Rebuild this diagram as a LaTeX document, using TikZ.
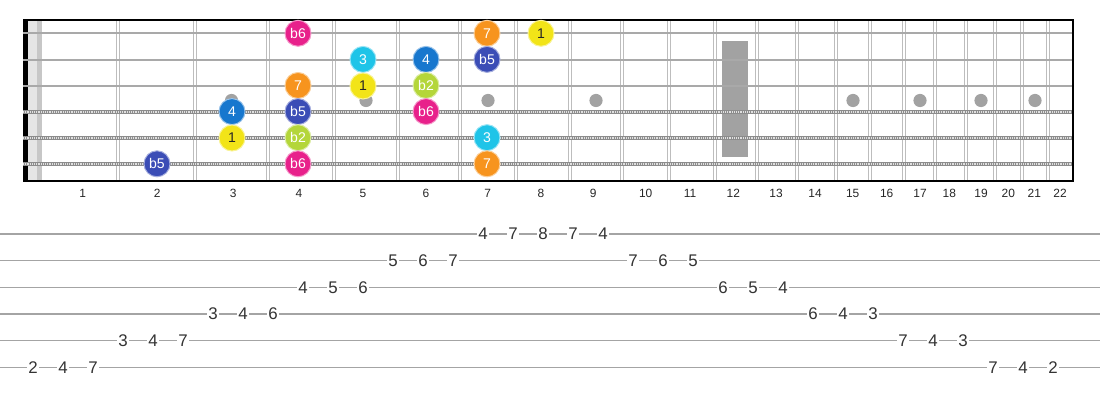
\documentclass[tikz,border=0pt]{standalone}
\usepackage{fontspec}
\setmainfont{Liberation Sans}
\definecolor{fretgrey}{HTML}{BDBDBD}
\definecolor{stringgrey}{HTML}{A9A9A9}
\definecolor{dotgrey}{HTML}{A2A2A2}
\definecolor{tabgrey}{HTML}{A4A4A4}
\definecolor{rootcol}{HTML}{F2E418}
\definecolor{flattwocol}{HTML}{B4D63A}
\definecolor{thirdcol}{HTML}{1FC4E8}
\definecolor{fourthcol}{HTML}{1777CE}
\definecolor{flatfivecol}{HTML}{3B4DB6}
\definecolor{flatsixcol}{HTML}{E8218B}
\definecolor{seventhcol}{HTML}{F7941E}
\tikzset{
  note/.style={circle, fill=#1, draw=white!55!#1, line width=0.7pt, minimum size=0.65cm,
    inner sep=0pt, font=\fontsize{10}{12}\selectfont, text=white},
  tabnum/.style={fill=white, inner sep=1.2pt, font=\fontsize{12}{14}\selectfont, text=black!80},
  fretnum/.style={font=\fontsize{8.5}{10}\selectfont, text=black!85},
  fretwire/.style={fretgrey, line width=0.9pt},
  tabline/.style={tabgrey, line width=1pt},
}
\begin{document}
\begin{tikzpicture}[x=0.025cm, y=-0.025cm]
\useasboundingbox (0,0) rectangle (1100,400);
% nut
\fill[black] (23,20) rectangle (28,181);
\fill[black!10] (28,20) rectangle (37,181);
\fill[black!22] (37,20) rectangle (42,181);
% fret wires
\foreach \w in {118,195,268,334,398,460,516,570,622,669,715,757,797,836,870,904,935,966,995,1022,1048}
  {\draw[fretwire] (\w-1.6,20) -- (\w-1.6,181);
   \draw[fretwire] (\w+1.6,20) -- (\w+1.6,181);}
% inlays
\fill[dotgrey] (722,41) rectangle (748,157);
\foreach \d in {231.5,366,488,596,853,920,981,1035}
  \fill[dotgrey] (\d,100.5) circle[radius=0.165cm];
% strings
\foreach \s in {33.3,60,86}
  \draw[stringgrey, line width=1.6pt] (23,\s) -- (1073,\s);
\foreach \s in {112,138,164}
  {\draw[black!45, line width=2.8pt] (23,\s) -- (1073,\s);
   \draw[white!88!black, line width=1.6pt, dash pattern=on 0.55pt off 0.75pt] (23,\s) -- (1073,\s);}
% border
\draw[black, line width=1.3pt] (23,20) -- (1073,20) -- (1073,181) -- (23,181);
% fret numbers
\foreach \n/\x in {1/82.7,2/157.3,3/233.3,4/299,5/363,6/426,7/487.7,8/541,9/593.3,10/645.7,11/690,
  12/733.3,13/776,14/815,15/852.7,16/886.7,17/920,18/949.3,19/981,20/1008.3,21/1034.3,22/1060}
  \node[fretnum] (fn\n) at (\x,193) {\n};
% scale notes: string / fret x / label / colour
\foreach \s/\f/\x/\lab/\col in {1/4/298/b6/flatsixcol, 1/7/487/7/seventhcol,
  2/5/363/3/thirdcol, 2/6/426/4/fourthcol, 2/7/487/b5/flatfivecol,
  3/4/298/7/seventhcol, 3/6/426/b2/flattwocol,
  4/3/232/4/fourthcol, 4/4/298/b5/flatfivecol, 4/6/426/b6/flatsixcol,
  5/4/298/b2/flattwocol, 5/7/487/3/thirdcol,
  6/2/157/b5/flatfivecol, 6/4/298/b6/flatsixcol, 6/7/487/7/seventhcol}
  \node[note=\col] (s\s f\f) at (\x,{33.3+26.1*(\s-1)}) {\lab};
\node[note=rootcol, text=black!85] (s1f8) at (541,33.3) {1};
\node[note=rootcol, text=black!85] (s3f5) at (363,86) {1};
\node[note=rootcol, text=black!85] (s5f3) at (232,138) {1};
% tab staff
\foreach \s in {1,...,6}
  \draw[tabline] (0,{234+26.67*(\s-1)}) -- (1100,{234+26.67*(\s-1)});
\foreach \k/\s/\f in {0/6/2,1/6/4,2/6/7,3/5/3,4/5/4,5/5/7,6/4/3,7/4/4,8/4/6,
  9/3/4,10/3/5,11/3/6,12/2/5,13/2/6,14/2/7,15/1/4,16/1/7,17/1/8,18/1/7,19/1/4,
  20/2/7,21/2/6,22/2/5,23/3/6,24/3/5,25/3/4,26/4/6,27/4/4,28/4/3,
  29/5/7,30/5/4,31/5/3,32/6/7,33/6/4,34/6/2}
  \node[tabnum] (t\k) at ({33+30*\k},{234+26.67*(\s-1)}) {\f};
\end{tikzpicture}
\end{document}
